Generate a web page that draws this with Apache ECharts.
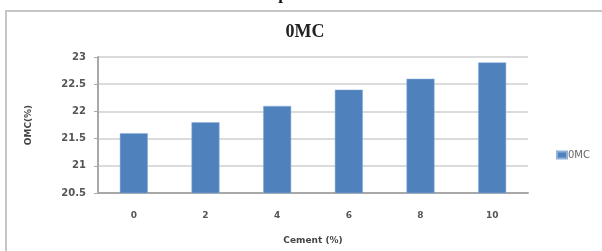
<!DOCTYPE html>
<html>
<head>
<meta charset="utf-8">
<script src="https://cdn.jsdelivr.net/npm/echarts@6/dist/echarts.min.js"></script>
<style>
html,body{margin:0;padding:0;background:#fff;}
#chart{width:602px;height:251px;}
</style>
</head>
<body>
<div id="chart"></div>
<script>
// data
var cement = ['0', '2', '4', '6', '8', '10'];
var omc = [21.6, 21.8, 22.1, 22.4, 22.6, 22.9];
var seriesName = '0MC';

var myChart = echarts.init(document.getElementById('chart'));

var option = {
    animation: false,
    backgroundColor: '#fff',
    graphic: [
        // frame of the pasted chart
        { type: 'rect', shape: { x: 6, y: 11, width: 640, height: 280 },
          style: { fill: 'none', stroke: '#c6c6c6', lineWidth: 2 } },
        // cut-off glyph of the line above
        { type: 'text', x: 283, y: -5,
          style: { text: 'p', fill: '#111', font: 'bold 17px "Liberation Serif"', textAlign: 'center', textVerticalAlign: 'middle' } },
        { type: 'text', x: 305, y: 32,
          style: { text: '0MC', fill: '#222', font: 'bold 18px "Liberation Serif"', textAlign: 'center', textVerticalAlign: 'middle' } }
    ],
    legend: {
        left: 551, top: 145,
        itemWidth: 10, itemHeight: 7, itemGap: 4,
        icon: 'rect',
        textStyle: { color: '#666', fontSize: 10, fontFamily: 'DejaVu Sans', padding: [0, 0, 0, -4] },
        data: [seriesName]
    },
    grid: { left: 98, right: 74, top: 57, bottom: 58 },
    xAxis: {
        type: 'category',
        data: cement,
        name: 'Cement (%)',
        nameLocation: 'middle',
        nameGap: 43,
        nameTextStyle: { color: '#444', fontSize: 9, fontWeight: 'bold', fontFamily: 'DejaVu Sans' },
        axisLine: { lineStyle: { color: '#a8a8a8', width: 2 } },
        axisTick: { show: false },
        axisLabel: { color: '#555', fontSize: 9, fontWeight: 'bold', fontFamily: 'DejaVu Sans', margin: 18 }
    },
    yAxis: {
        type: 'value',
        min: 20.5, max: 23, interval: 0.5,
        name: 'OMC(%)',
        nameLocation: 'middle',
        nameGap: 65,
        nameTextStyle: { color: '#444', fontSize: 9, fontWeight: 'bold', fontFamily: 'DejaVu Sans' },
        axisLine: { show: true, lineStyle: { color: '#a8a8a8', width: 2 } },
        axisTick: { show: true, length: 4, lineStyle: { color: '#a8a8a8', width: 1 } },
        axisLabel: { color: '#555', fontSize: 10, fontWeight: 'bold', fontFamily: 'DejaVu Sans', margin: 12 },
        splitLine: { lineStyle: { color: '#cfcfcf', width: 1.5 } }
    },
    series: [{
        name: seriesName,
        type: 'bar',
        data: omc,
        barWidth: 28,
        itemStyle: { color: '#4f81bd', borderColor: '#8fb0d8', borderWidth: 0.5 }
    }]
};

myChart.setOption(option);
</script>
</body>
</html>
